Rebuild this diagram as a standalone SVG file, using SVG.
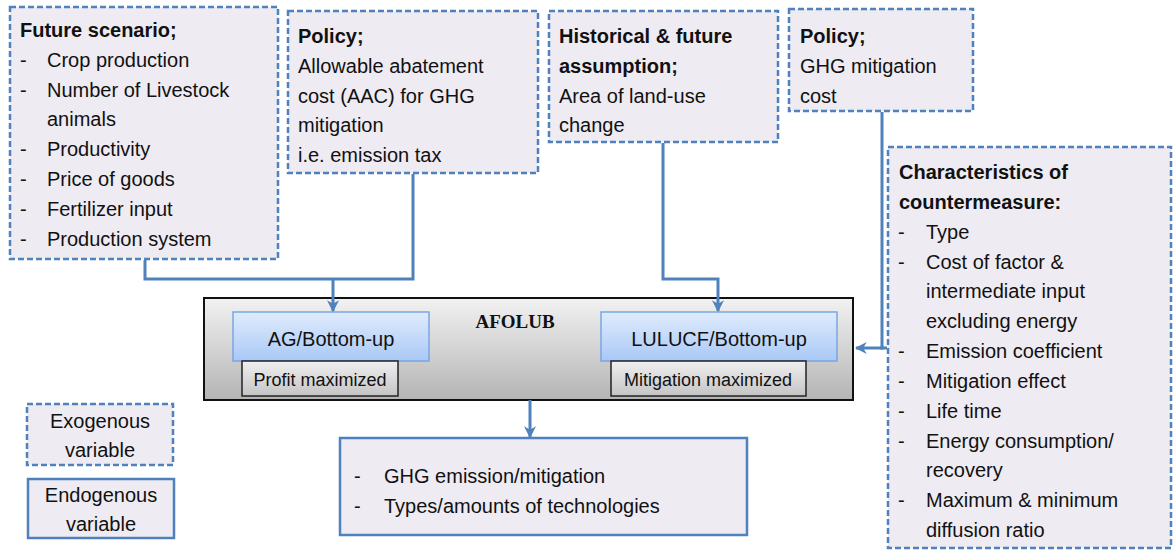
<svg xmlns="http://www.w3.org/2000/svg" width="1173" height="550" viewBox="0 0 1173 550">
<style>
.exo{fill:#EEEBF2;stroke:#4F81BD;stroke-width:2.5;stroke-dasharray:6,3}
.endo{fill:#EEEBF2;stroke:#4F81BD;stroke-width:2.5}
.t{font-family:"Liberation Sans",Arial,sans-serif;font-size:20px;fill:#111}
.b{font-weight:bold}
.s{font-size:18px}
.c{text-anchor:middle}
.con{fill:none;stroke:#4F81BD;stroke-width:3}
</style>
<defs>
<marker id="arr" viewBox="0 0 10 10" refX="9" refY="5" markerWidth="4" markerHeight="4" orient="auto">
<path d="M0,0 L10,5 L0,10 L3,5 Z" fill="#4F81BD"/>
</marker>
<linearGradient id="gray" x1="0" y1="0" x2="0" y2="1">
<stop offset="0" stop-color="#f2f2f2"/><stop offset="1" stop-color="#b4b4b4"/>
</linearGradient>
<linearGradient id="blue" x1="0" y1="0" x2="0" y2="1">
<stop offset="0" stop-color="#e0ecfd"/><stop offset="1" stop-color="#a9c8f6"/>
</linearGradient>
<linearGradient id="gray2" x1="0" y1="0" x2="0" y2="1">
<stop offset="0" stop-color="#f0f0f0"/><stop offset="1" stop-color="#c4c4c4"/>
</linearGradient>
</defs>

<g id="future-scenario">
<rect class="exo" x="10" y="7" width="268" height="252"/>
<text class="t b" x="20" y="37">Future scenario;</text>
<text class="t" x="20" y="67">-</text><text class="t" x="47" y="67">Crop production</text>
<text class="t" x="20" y="97">-</text><text class="t" x="47" y="97">Number of Livestock</text>
<text class="t" x="47" y="126">animals</text>
<text class="t" x="20" y="156">-</text><text class="t" x="47" y="156">Productivity</text>
<text class="t" x="20" y="186">-</text><text class="t" x="47" y="186">Price of goods</text>
<text class="t" x="20" y="216">-</text><text class="t" x="47" y="216">Fertilizer input</text>
<text class="t" x="20" y="246">-</text><text class="t" x="47" y="246">Production system</text>
</g>

<g id="policy-aac">
<rect class="exo" x="288" y="11" width="250" height="162"/>
<text class="t b" x="298" y="43">Policy;</text>
<text class="t" x="298" y="73">Allowable abatement</text>
<text class="t" x="298" y="103">cost (AAC) for GHG</text>
<text class="t" x="298" y="132">mitigation</text>
<text class="t" x="298" y="162">i.e. emission tax</text>
</g>

<g id="historical">
<rect class="exo" x="549" y="11" width="229" height="131"/>
<text class="t b" x="559" y="43">Historical &amp; future</text>
<text class="t b" x="559" y="73">assumption;</text>
<text class="t" x="559" y="103">Area of land-use</text>
<text class="t" x="559" y="132">change</text>
</g>

<g id="policy-ghg">
<rect class="exo" x="789" y="9" width="184" height="102"/>
<text class="t b" x="800" y="43">Policy;</text>
<text class="t" x="800" y="73">GHG mitigation</text>
<text class="t" x="800" y="103">cost</text>
</g>

<g id="characteristics">
<rect class="exo" x="888" y="147" width="283" height="401"/>
<text class="t b" x="899" y="179">Characteristics  of</text>
<text class="t b" x="899" y="209">countermeasure:</text>
<text class="t" x="898" y="239">-</text><text class="t" x="926" y="239">Type</text>
<text class="t" x="898" y="269">-</text><text class="t" x="926" y="269">Cost of factor &amp;</text>
<text class="t" x="926" y="298">intermediate input</text>
<text class="t" x="926" y="328">excluding energy</text>
<text class="t" x="898" y="358">-</text><text class="t" x="926" y="358">Emission coefficient</text>
<text class="t" x="898" y="388">-</text><text class="t" x="926" y="388">Mitigation effect</text>
<text class="t" x="898" y="418">-</text><text class="t" x="926" y="418">Life time</text>
<text class="t" x="898" y="448">-</text><text class="t" x="926" y="448">Energy consumption/</text>
<text class="t" x="926" y="477">recovery</text>
<text class="t" x="898" y="507">-</text><text class="t" x="926" y="507">Maximum &amp; minimum</text>
<text class="t" x="926" y="537">diffusion ratio</text>
</g>

<g id="afolub">
<rect x="204" y="298" width="649" height="102" fill="url(#gray)" stroke="#111" stroke-width="2"/>
<text x="515" y="328" text-anchor="middle" font-family="'Liberation Serif','Times New Roman',serif" font-size="19" font-weight="bold" fill="#111">AFOLUB</text>
</g>

<g id="ag-bottom-up">
<rect x="233" y="312" width="196" height="49" fill="url(#blue)" stroke="#7aa6e2" stroke-width="1.5"/>
<text class="t c" x="331" y="346">AG/Bottom-up</text>
</g>
<g id="profit-maximized">
<rect x="242" y="361" width="156" height="35" fill="url(#gray2)" stroke="#222" stroke-width="1.5"/>
<text class="t s c" x="320" y="386">Profit maximized</text>
</g>

<g id="lulucf-bottom-up">
<rect x="601" y="312" width="236" height="49" fill="url(#blue)" stroke="#7aa6e2" stroke-width="1.5"/>
<text class="t c" x="719" y="346">LULUCF/Bottom-up</text>
</g>
<g id="mitigation-maximized">
<rect x="611" y="361" width="195" height="35" fill="url(#gray2)" stroke="#222" stroke-width="1.5"/>
<text class="t s c" x="708" y="386">Mitigation maximized</text>
</g>

<g id="output">
<rect class="endo" x="340" y="438" width="407" height="97"/>
<text class="t" x="354" y="483">-</text><text class="t" x="384" y="483">GHG emission/mitigation</text>
<text class="t" x="354" y="513">-</text><text class="t" x="384" y="513">Types/amounts of technologies</text>
</g>

<g id="legend-exogenous">
<rect class="exo" x="27" y="404" width="146" height="61"/>
<text class="t c" x="100" y="428">Exogenous</text>
<text class="t c" x="100" y="457">variable</text>
</g>
<g id="legend-endogenous">
<rect class="endo" x="28" y="479" width="146" height="59"/>
<text class="t c" x="101" y="502">Endogenous</text>
<text class="t c" x="101" y="531">variable</text>
</g>

<g id="connectors">
<polyline class="con" points="145,260 145,279 413,279 413,174"/>
<line class="con" x1="333" y1="279" x2="333" y2="311" marker-end="url(#arr)"/>
<polyline class="con" points="663,143 663,279 718,279 718,311" marker-end="url(#arr)"/>
<polyline class="con" points="882,112 882,348 856,348" marker-end="url(#arr)"/>
<line class="con" x1="887" y1="348" x2="880" y2="348"/>
<line class="con" x1="530" y1="400" x2="530" y2="437" marker-end="url(#arr)"/>
</g>
</svg>
